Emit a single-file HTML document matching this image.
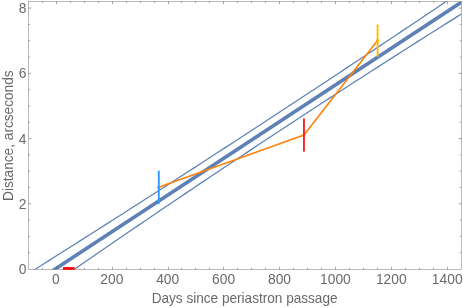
<!DOCTYPE html>
<html><head><meta charset="utf-8"><style>
html,body{margin:0;padding:0;background:#fff;}
svg{display:block;will-change:transform}
text{font-family:"Liberation Sans",sans-serif;font-size:14.4px;fill:#6a6a6a}
</style></head><body>
<svg width="463" height="308" viewBox="0 0 463 308">
<rect width="463" height="308" fill="#fff"/>
<defs><clipPath id="c"><rect x="28.5" y="1.45" width="432.8" height="267.95"/></clipPath></defs>
<g clip-path="url(#c)" fill="none">
<path d="M10.0 285.07 L18.0 280.05 L26.0 275.02 L34.0 269.99 L42.0 264.94 L50.0 259.90 L58.0 254.84 L66.0 249.78 L74.0 244.71 L82.0 239.64 L90.0 234.55 L98.0 229.46 L106.0 224.37 L114.0 219.27 L122.0 214.16 L130.0 209.04 L138.0 203.92 L146.0 198.79 L154.0 193.66 L162.0 188.51 L170.0 183.36 L178.0 178.21 L186.0 173.05 L194.0 167.88 L202.0 162.70 L210.0 157.52 L218.0 152.33 L226.0 147.13 L234.0 141.93 L242.0 136.72 L250.0 131.50 L258.0 126.28 L266.0 121.05 L274.0 115.81 L282.0 110.57 L290.0 105.32 L298.0 100.06 L306.0 94.80 L314.0 89.53 L322.0 84.25 L330.0 78.97 L338.0 73.68 L346.0 68.38 L354.0 63.08 L362.0 57.76 L370.0 52.45 L378.0 47.12 L386.0 41.79 L394.0 36.45 L402.0 31.11 L410.0 25.76 L418.0 20.40 L426.0 15.04 L434.0 9.67 L442.0 4.29 L450.0 -1.10 L458.0 -6.49 L466.0 -11.89 L474.0 -17.29" stroke="#5e81b5" stroke-width="1.25"/>
<path d="M10.0 314.27 L18.0 308.65 L26.0 303.04 L34.0 297.44 L42.0 291.85 L50.0 286.28 L58.0 280.71 L66.0 275.16 L74.0 269.61 L82.0 264.08 L90.0 258.55 L98.0 253.04 L106.0 247.54 L114.0 242.05 L122.0 236.57 L130.0 231.10 L138.0 225.64 L146.0 220.20 L154.0 214.76 L162.0 209.33 L170.0 203.92 L178.0 198.51 L186.0 193.12 L194.0 187.74 L202.0 182.36 L210.0 177.00 L218.0 171.65 L226.0 166.31 L234.0 160.98 L242.0 155.66 L250.0 150.36 L258.0 145.06 L266.0 139.77 L274.0 134.50 L282.0 129.23 L290.0 123.98 L298.0 118.73 L306.0 113.50 L314.0 108.28 L322.0 103.07 L330.0 97.87 L338.0 92.68 L346.0 87.50 L354.0 82.33 L362.0 77.17 L370.0 72.03 L378.0 66.89 L386.0 61.77 L394.0 56.65 L402.0 51.55 L410.0 46.46 L418.0 41.37 L426.0 36.30 L434.0 31.24 L442.0 26.19 L450.0 21.15 L458.0 16.12 L466.0 11.11 L474.0 6.10" stroke="#5e81b5" stroke-width="1.25"/>
<path d="M5.40 301.75 L481.30 -10.92" stroke="#5e81b5" stroke-width="3.6"/>
<path d="M158.7 187.3 L303.95 134.9 L377.55 40.5" stroke="#ff8208" stroke-width="1.6" stroke-linejoin="round" stroke-linecap="round"/>
<g fill="#ff8208"><circle cx="158.7" cy="187.3" r="1.5"/><circle cx="303.95" cy="134.9" r="1.5"/><circle cx="377.55" cy="40.5" r="1.5"/></g>
<path d="M158.8 171.4 V203.2" stroke="#3399ff" stroke-width="1.9" stroke-linecap="round"/>
<path d="M303.95 119.1 V150.9" stroke="#ff2020" stroke-width="1.9" stroke-linecap="round"/>
<path d="M377.6 25.2 V56.1" stroke="#ffbb00" stroke-width="1.9" stroke-linecap="round"/>
</g>
<rect x="28.5" y="1.45" width="432.8" height="267.95" fill="none" stroke="#666" stroke-width="0.45"/>
<path d="M42.50 269.4 v-1.6 M42.50 1.45 v1.6 M56.50 269.4 v-2.7 M56.50 1.45 v2.7 M70.50 269.4 v-1.6 M70.50 1.45 v1.6 M84.50 269.4 v-1.6 M84.50 1.45 v1.6 M98.50 269.4 v-1.6 M98.50 1.45 v1.6 M112.50 269.4 v-2.7 M112.50 1.45 v2.7 M126.50 269.4 v-1.6 M126.50 1.45 v1.6 M140.50 269.4 v-1.6 M140.50 1.45 v1.6 M154.50 269.4 v-1.6 M154.50 1.45 v1.6 M168.50 269.4 v-2.7 M168.50 1.45 v2.7 M181.50 269.4 v-1.6 M181.50 1.45 v1.6 M195.50 269.4 v-1.6 M195.50 1.45 v1.6 M209.50 269.4 v-1.6 M209.50 1.45 v1.6 M223.50 269.4 v-2.7 M223.50 1.45 v2.7 M237.50 269.4 v-1.6 M237.50 1.45 v1.6 M251.50 269.4 v-1.6 M251.50 1.45 v1.6 M265.50 269.4 v-1.6 M265.50 1.45 v1.6 M279.50 269.4 v-2.7 M279.50 1.45 v2.7 M293.50 269.4 v-1.6 M293.50 1.45 v1.6 M307.50 269.4 v-1.6 M307.50 1.45 v1.6 M321.50 269.4 v-1.6 M321.50 1.45 v1.6 M335.50 269.4 v-2.7 M335.50 1.45 v2.7 M349.50 269.4 v-1.6 M349.50 1.45 v1.6 M363.50 269.4 v-1.6 M363.50 1.45 v1.6 M377.50 269.4 v-1.6 M377.50 1.45 v1.6 M391.50 269.4 v-2.7 M391.50 1.45 v2.7 M405.50 269.4 v-1.6 M405.50 1.45 v1.6 M419.50 269.4 v-1.6 M419.50 1.45 v1.6 M433.50 269.4 v-1.6 M433.50 1.45 v1.6 M447.50 269.4 v-2.7 M447.50 1.45 v2.7 M28.5 252.74 h1.6 M461.3 252.74 h-1.6 M28.5 236.43 h1.6 M461.3 236.43 h-1.6 M28.5 220.12 h1.6 M461.3 220.12 h-1.6 M28.5 203.81 h2.7 M461.3 203.81 h-2.7 M28.5 187.50 h1.6 M461.3 187.50 h-1.6 M28.5 171.19 h1.6 M461.3 171.19 h-1.6 M28.5 154.88 h1.6 M461.3 154.88 h-1.6 M28.5 138.57 h2.7 M461.3 138.57 h-2.7 M28.5 122.26 h1.6 M461.3 122.26 h-1.6 M28.5 105.95 h1.6 M461.3 105.95 h-1.6 M28.5 89.64 h1.6 M461.3 89.64 h-1.6 M28.5 73.33 h2.7 M461.3 73.33 h-2.7 M28.5 57.02 h1.6 M461.3 57.02 h-1.6 M28.5 40.71 h1.6 M461.3 40.71 h-1.6 M28.5 24.40 h1.6 M461.3 24.40 h-1.6 M28.5 8.09 h2.7 M461.3 8.09 h-2.7" stroke="#666" stroke-width="0.6" fill="none"/>
<path d="M62.9 268.45 H74.6" stroke="#f80a10" stroke-width="2.8" fill="none"/>
<text transform="translate(55.90,283.85) scale(0.96,1)" text-anchor="middle">0</text>
<text transform="translate(111.80,283.85) scale(0.96,1)" text-anchor="middle">200</text>
<text transform="translate(167.70,283.85) scale(0.96,1)" text-anchor="middle">400</text>
<text transform="translate(223.60,283.85) scale(0.96,1)" text-anchor="middle">600</text>
<text transform="translate(279.50,283.85) scale(0.96,1)" text-anchor="middle">800</text>
<text transform="translate(335.40,283.85) scale(0.96,1)" text-anchor="middle">1000</text>
<text transform="translate(391.30,283.85) scale(0.96,1)" text-anchor="middle">1200</text>
<text transform="translate(447.20,283.85) scale(0.96,1)" text-anchor="middle">1400</text>
<text transform="translate(26.5,274.05) scale(0.96,1)" text-anchor="end">0</text>
<text transform="translate(26.5,208.81) scale(0.96,1)" text-anchor="end">2</text>
<text transform="translate(26.5,143.57) scale(0.96,1)" text-anchor="end">4</text>
<text transform="translate(26.5,78.33) scale(0.96,1)" text-anchor="end">6</text>
<text transform="translate(26.5,13.09) scale(0.96,1)" text-anchor="end">8</text>
<text transform="translate(244.6,302.8) scale(0.958,1)" text-anchor="middle" style="font-size:14.2px">Days since periastron passage</text>
<text transform="translate(12.7,135.65) rotate(-90) scale(0.984,1)" text-anchor="middle" style="font-size:13.9px">Distance, arcseconds</text>
</svg>
</body></html>
